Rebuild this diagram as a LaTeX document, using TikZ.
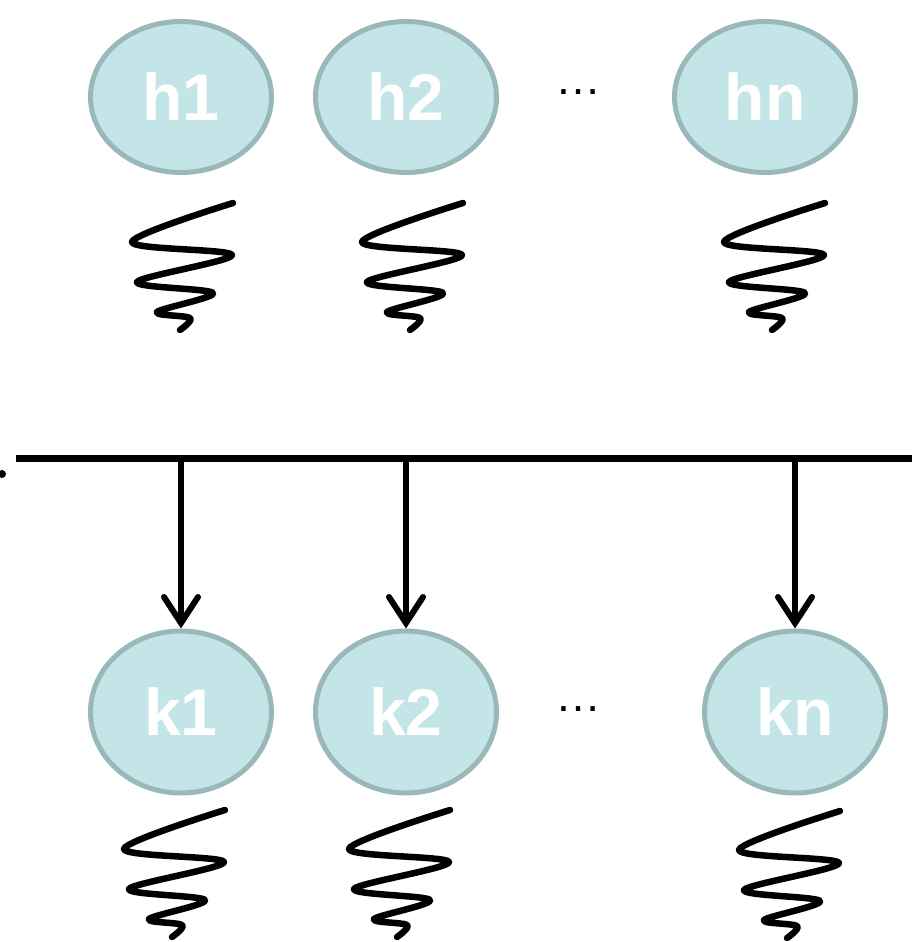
\documentclass[tikz,border=0pt]{standalone}
\usepackage{fontspec}
\setmainfont{Liberation Sans}
\usetikzlibrary{shapes.geometric,arrows.meta}
\definecolor{nodefill}{HTML}{C3E5E8}
\definecolor{nodeline}{HTML}{9AB8BA}
\tikzset{
  unit/.style={ellipse, fill=nodefill, draw=nodeline, line width=5pt,
    minimum width=181pt, inner sep=0pt, text=white,
    font=\fontsize{66}{66}\selectfont\bfseries},
  hunit/.style={unit, minimum height=151pt},
  kunit/.style={unit, minimum height=162pt},
  springline/.style={line width=6.5pt, line cap=round, line join=round},
  bus/.style={line width=7pt},
  arr/.style={line width=6pt, -{Straight Barb[length=26pt, width=34pt, line width=6pt, line cap=round]}},
  dotsnode/.style={anchor=base, inner sep=0pt, font=\fontsize{46}{46}\selectfont},
  pics/coil/.style={code={
    \draw[springline] plot[smooth, tension=0.55] coordinates
      {(0,0) (-101,39) (-1,52) (-96,79) (-20,90) (-76,109) (-43,115) (-53,127)};
  }}
}
\begin{document}
\begin{tikzpicture}[x=1pt,y=-1pt]
\useasboundingbox (0,0) rectangle (912,942);
% top row
\node[hunit] (h1) at (181,97) {h1};
\node[hunit] (h2) at (406,97) {h2};
\node[hunit] (hn) at (765,97) {hn};
\node[dotsnode] (hdots) at (578,95) {…};
\pic at (233,203) {coil};
\pic at (463,203) {coil};
\pic at (825,203) {coil};
% bus
\coordinate (busL) at (16,458);
\coordinate (busR) at (912,458);
\draw[bus] (busL) -- (busR);
\fill (2,474) circle (4pt);
% bottom row
\node[kunit] (k1) at (181,712) {k1};
\node[kunit] (k2) at (406,712) {k2};
\node[kunit] (kn) at (795,712) {kn};
\node[dotsnode] (kdots) at (578,711) {…};
\coordinate (b1) at (181,458);
\coordinate (b2) at (406,458);
\coordinate (bn) at (795,458);
\draw[arr] (b1) -- (k1.north);
\draw[arr] (b2) -- (k2.north);
\draw[arr] (bn) -- (kn.north);
\pic at (225,810) {coil};
\pic at (450,810) {coil};
\pic at (840,811) {coil};
\end{tikzpicture}
\end{document}
